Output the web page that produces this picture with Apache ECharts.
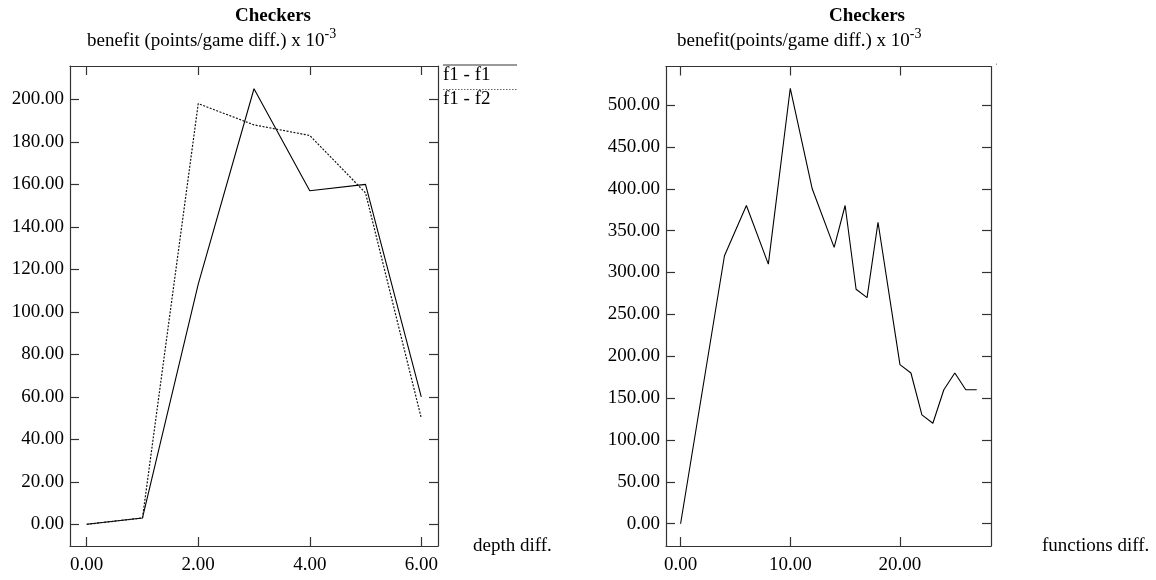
<!DOCTYPE html>
<html>
<head>
<meta charset="utf-8">
<script src="https://cdn.jsdelivr.net/npm/echarts@6/dist/echarts.min.js"></script>
<style>
html,body{margin:0;padding:0;background:#fff;}
#c{width:1156px;height:580px;}
</style>
</head>
<body>
<div id="c"></div>
<script>
// ---- data ----
const depthDiff = [0, 1, 2, 3, 4, 5, 6];
const benefitF1F1 = [0, 3, 113, 205, 157, 160, 60];
const benefitF1F2 = [0, 3, 198, 188, 183, 156, 50];
const seriesNames = ['f1 - f1', 'f1 - f2'];

const functionsDiff = [0, 4, 6, 8, 10, 12, 14, 15, 16, 17, 18, 20, 21, 22, 23, 24, 25, 26, 27];
const benefitFunctions = [0, 320, 380, 310, 520, 400, 330, 380, 280, 270, 360, 190, 180, 130, 120, 160, 180, 160, 160];

const leftXTicks = [0, 2, 4, 6];
const leftYTicks = [0, 20, 40, 60, 80, 100, 120, 140, 160, 180, 200];
const rightXTicks = [0, 10, 20];
const rightYTicks = [0, 50, 100, 150, 200, 250, 300, 350, 400, 450, 500];

const FONT = '"Liberation Serif", "Times New Roman", serif';
const AXIS_COLOR = '#333';
const FS = 19;

function pairs(xs, ys) { return xs.map((x, i) => [x, ys[i]]); }

function xAxisPair(gridIndex, min, max, ticks, name, nameGap) {
  const common = {
    type: 'value', gridIndex, min, max,
    splitLine: { show: false },
    axisLine: { show: true, onZero: false, lineStyle: { color: AXIS_COLOR, width: 1.2 } },
    axisTick: { show: true, inside: true, length: 9, customValues: ticks, lineStyle: { color: AXIS_COLOR, width: 1.2 } }
  };
  return [
    Object.assign({}, common, {
      position: 'bottom',
      name, nameLocation: 'end', nameGap,
      nameTextStyle: { fontFamily: FONT, fontSize: FS, color: '#000', align: 'left', verticalAlign: 'middle', padding: [4, 0, 0, 0] },
      axisLabel: { show: true, margin: 10, customValues: ticks, fontFamily: FONT, fontSize: FS, color: '#000', formatter: v => v.toFixed(2) }
    }),
    Object.assign({}, common, { position: 'top', axisLabel: { show: false } })
  ];
}

function yAxisPair(gridIndex, min, max, ticks) {
  const common = {
    type: 'value', gridIndex, min, max,
    splitLine: { show: false },
    axisLine: { show: true, onZero: false, lineStyle: { color: AXIS_COLOR, width: 1.2 } },
    axisTick: { show: true, inside: true, length: 9, customValues: ticks, lineStyle: { color: AXIS_COLOR, width: 1.2 } }
  };
  return [
    Object.assign({}, common, {
      position: 'left',
      axisLabel: { show: true, margin: 6, customValues: ticks, fontFamily: FONT, fontSize: FS, color: '#000', formatter: v => v.toFixed(2) }
    }),
    Object.assign({}, common, { position: 'right', axisLabel: { show: false } })
  ];
}

const titleRich = {
  n: { fontFamily: FONT, fontSize: FS, fontWeight: 'normal', color: '#000' },
  s: { fontFamily: FONT, fontSize: 14, fontWeight: 'normal', color: '#000', padding: [0, 0, 14, 0] }
};
const boldTitle = { fontFamily: FONT, fontSize: FS, fontWeight: 'bold', color: '#000' };
const subTitle = { fontFamily: FONT, fontSize: FS, fontWeight: 'normal', color: '#000', rich: titleRich };

const chart = echarts.init(document.getElementById('c'), null, { renderer: 'canvas' });
chart.setOption({
  animation: false,
  backgroundColor: '#fff',
  title: [
    { text: 'Checkers', left: 235, top: 7, padding: 0, textStyle: boldTitle },
    { text: '{n|benefit (points/game diff.) x 10}{s|-3}', left: 87, top: 27, padding: 0, textStyle: subTitle },
    { text: 'Checkers', left: 829, top: 7, padding: 0, textStyle: boldTitle },
    { text: '{n|benefit(points/game diff.) x 10}{s|-3}', left: 677, top: 27, padding: 0, textStyle: subTitle }
  ],
  grid: [
    { left: 70, top: 66, width: 368, height: 480 },
    { left: 666, top: 66.5, width: 325, height: 479.5 }
  ],
  xAxis: [
    ...xAxisPair(0, -0.3, 6.3, leftXTicks, 'depth diff.', 35),
    ...xAxisPair(1, -1.33, 28.3, rightXTicks, 'functions diff.', 51)
  ],
  yAxis: [
    ...yAxisPair(0, -10.2, 215.7, leftYTicks),
    ...yAxisPair(1, -26.6, 546, rightYTicks)
  ],
  graphic: [
    { type: 'line', shape: { x1: 443, y1: 65, x2: 517, y2: 65 }, style: { stroke: '#777', lineWidth: 1.5 } },
    { type: 'text', x: 443, y: 75, style: { text: seriesNames[0], fontFamily: FONT, fontSize: FS, fill: '#000', verticalAlign: 'middle' } },
    { type: 'line', shape: { x1: 443, y1: 89.5, x2: 517, y2: 89.5 }, style: { stroke: '#666', lineWidth: 1.2, lineDash: [1.5, 1.5] } },
    { type: 'text', x: 443, y: 99, style: { text: seriesNames[1], fontFamily: FONT, fontSize: FS, fill: '#000', verticalAlign: 'middle' } },
    { type: 'rect', shape: { x: 996, y: 63.5, width: 1, height: 1.5 }, style: { fill: '#999' } }
  ],
  series: [
    { name: seriesNames[0], type: 'line', xAxisIndex: 0, yAxisIndex: 0, data: pairs(depthDiff, benefitF1F1), symbol: 'none', lineStyle: { color: '#000', width: 1.1 } },
    { name: seriesNames[1], type: 'line', xAxisIndex: 0, yAxisIndex: 0, data: pairs(depthDiff, benefitF1F2), symbol: 'none', lineStyle: { color: '#111', width: 1.2, type: [2, 1.5] } },
    { name: 'functions', type: 'line', xAxisIndex: 2, yAxisIndex: 2, data: pairs(functionsDiff, benefitFunctions), symbol: 'none', lineStyle: { color: '#000', width: 1.1 } }
  ]
});
</script>
</body>
</html>
